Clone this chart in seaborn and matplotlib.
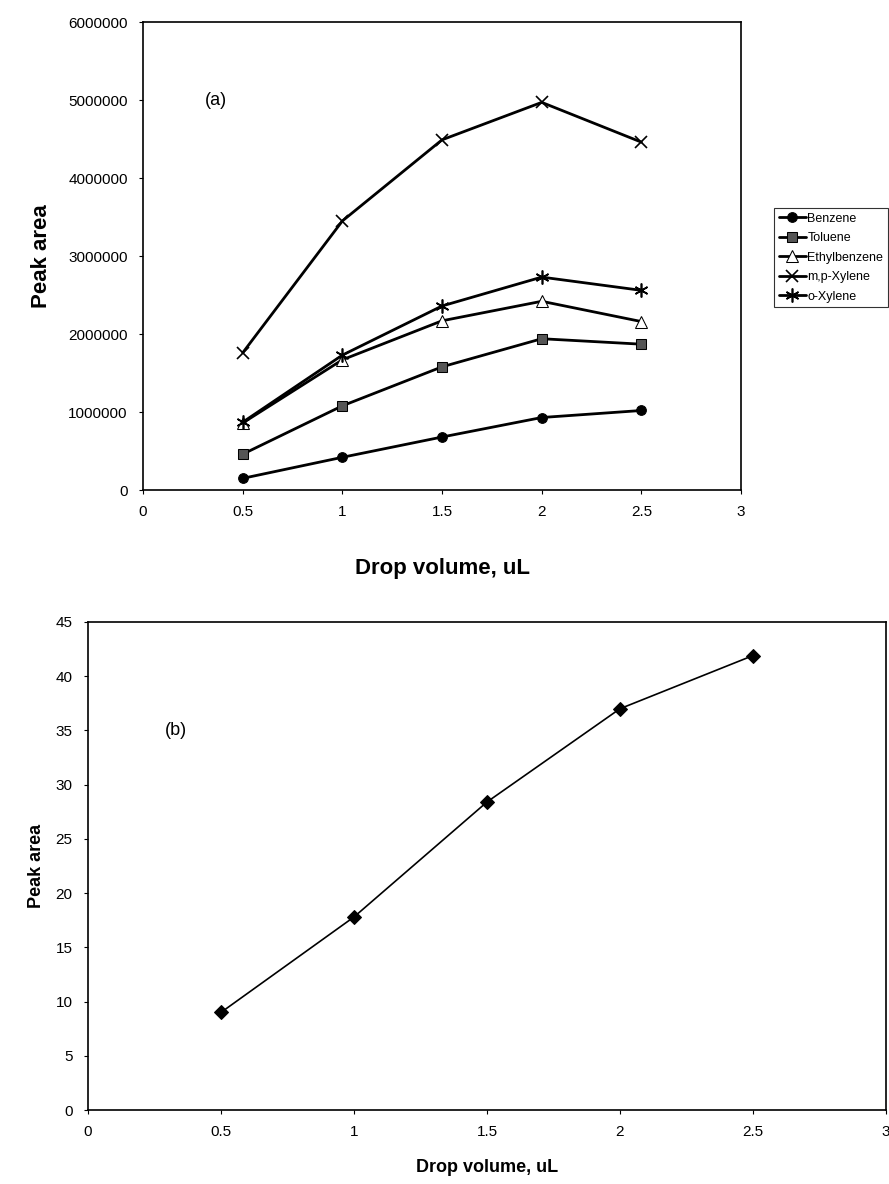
import matplotlib
matplotlib.use('Agg')
import matplotlib.pyplot as plt
import seaborn as sns
import pandas as pd

# Data
drop_volume = [0.5, 1.0, 1.5, 2.0, 2.5]

benzene = [150000, 420000, 680000, 930000, 1020000]
toluene = [460000, 1080000, 1580000, 1940000, 1870000]
ethylbenzene = [860000, 1670000, 2170000, 2420000, 2160000]
mp_xylene = [1760000, 3450000, 4490000, 4970000, 4460000]
o_xylene = [870000, 1730000, 2360000, 2730000, 2560000]

series_names = ['Benzene', 'Toluene', 'Ethylbenzene', 'm,p-Xylene', 'o-Xylene']
series_values = [benzene, toluene, ethylbenzene, mp_xylene, o_xylene]

peak_area_b = [9.0, 17.8, 28.4, 37.0, 41.9]

sns.set_style('ticks')
plt.rcParams['font.family'] = ['Liberation Sans', 'DejaVu Sans']
plt.rcParams['text.color'] = 'black'
plt.rcParams['axes.labelcolor'] = 'black'
plt.rcParams['xtick.color'] = 'black'
plt.rcParams['ytick.color'] = 'black'

fig = plt.figure(figsize=(8.89, 11.84), dpi=100)

# (a) panel
ax1 = fig.add_axes([0.1609, 0.5861, 0.6727, 0.3953])
styles = {
    'Benzene': dict(marker='o', markersize=7, markerfacecolor='black'),
    'Toluene': dict(marker='s', markersize=7, markerfacecolor='#555555'),
    'Ethylbenzene': dict(marker='^', markersize=8, markerfacecolor='white'),
    'm,p-Xylene': dict(marker='x', markersize=9, markeredgewidth=1.2),
    'o-Xylene': dict(marker=(6, 2, 0), markersize=10, markeredgewidth=1.2),
}
for name, vals in zip(series_names, series_values):
    df = pd.DataFrame({'x': drop_volume, 'y': vals})
    sns.lineplot(data=df, x='x', y='y', ax=ax1, color='black', linewidth=2,
                 markeredgecolor='black', label=name, **styles[name])

ax1.set_xlim(0, 3)
ax1.set_ylim(0, 6000000)
ax1.set_xticks([0, 0.5, 1, 1.5, 2, 2.5, 3])
ax1.set_xticklabels(['0', '0.5', '1', '1.5', '2', '2.5', '3'])
ax1.set_yticks(range(0, 6000001, 1000000))
ax1.set_yticklabels([str(v) for v in range(0, 6000001, 1000000)])
ax1.tick_params(labelsize=11, length=3, width=0.8, direction='out', pad=8)
ax1.set_xlabel('Drop volume, uL', fontsize=16, fontweight='bold', labelpad=28)
ax1.set_ylabel('Peak area', fontsize=16, fontweight='bold', labelpad=12)
for s in ax1.spines.values():
    s.set_linewidth(1.2)
    s.set_color('black')
ax1.text(0.31, 5000000, '(a)', fontsize=13, va='center')
leg = ax1.legend(loc='upper left', bbox_to_anchor=(1.045, 0.615), fontsize=9,
                 frameon=True, fancybox=False, edgecolor='black', handlelength=2.2,
                 handletextpad=0.1, borderpad=0.35, labelspacing=0.6)
leg.get_frame().set_linewidth(0.8)

# (b) panel
ax2 = fig.add_axes([0.099, 0.0625, 0.8976, 0.4122])
dfb = pd.DataFrame({'x': drop_volume, 'y': peak_area_b})
sns.lineplot(data=dfb, x='x', y='y', ax=ax2, color='black', linewidth=1.2,
             marker='D', markersize=7, markerfacecolor='black', markeredgecolor='black')
ax2.set_xlim(0, 3)
ax2.set_ylim(0, 45)
ax2.set_xticks([0, 0.5, 1, 1.5, 2, 2.5, 3])
ax2.set_xticklabels(['0', '0.5', '1', '1.5', '2', '2.5', '3'])
ax2.set_yticks(range(0, 46, 5))
ax2.tick_params(labelsize=11, length=3, width=0.8, direction='out', pad=8)
ax2.set_xlabel('Drop volume, uL', fontsize=13, fontweight='bold', labelpad=14)
ax2.set_ylabel('Peak area', fontsize=13, fontweight='bold', labelpad=8)
for s in ax2.spines.values():
    s.set_linewidth(1.2)
    s.set_color('black')
ax2.text(0.29, 35, '(b)', fontsize=13, va='center')

fig.savefig('out.png', dpi=100)
